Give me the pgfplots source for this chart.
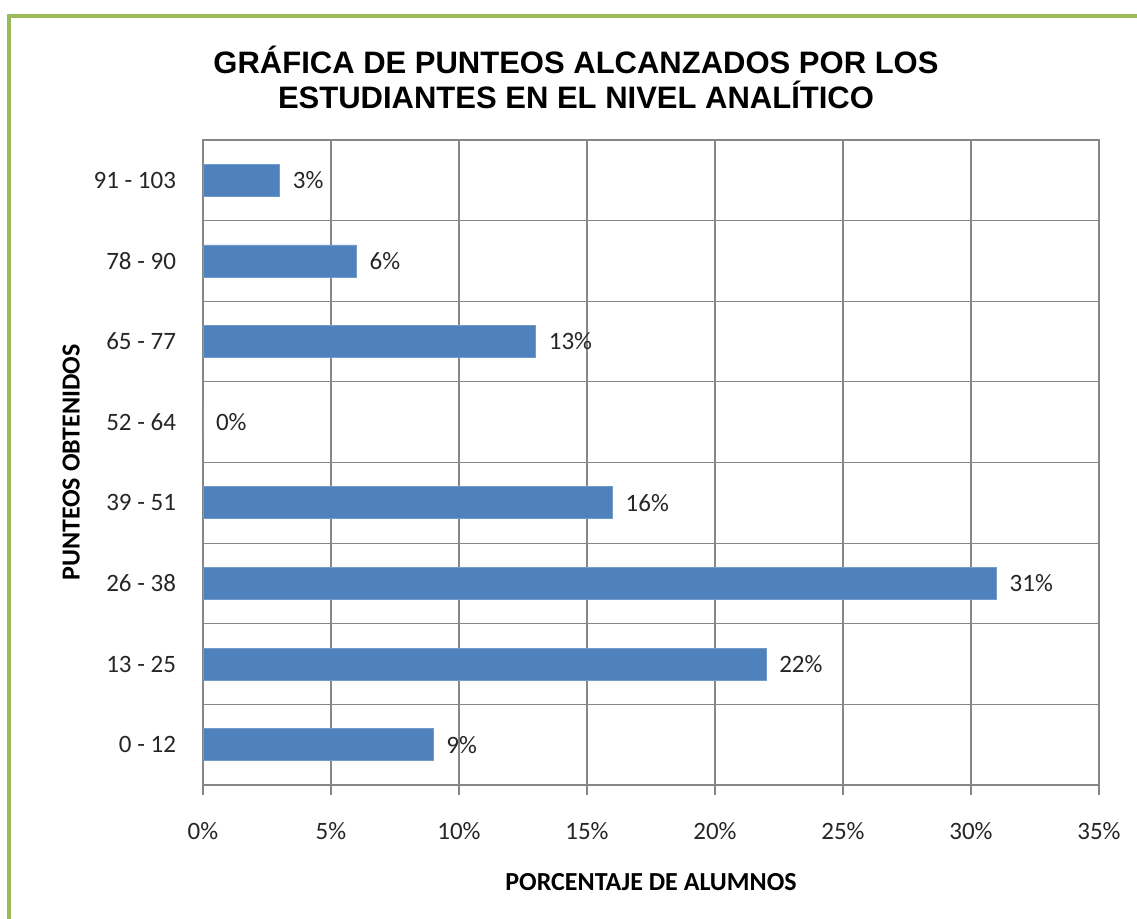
\documentclass[border=0pt]{standalone}
\usepackage{pgfplots}
\pgfplotsset{compat=1.18}
\usepackage{fontspec}
\setmainfont{Carlito}
\newfontfamily\titlefont{Liberation Sans}
\definecolor{barblue}{HTML}{4F81BD}
\definecolor{bordergreen}{HTML}{9BBB59}
\definecolor{gridgray}{HTML}{868686}
\definecolor{txt}{HTML}{262626}
\begin{document}
\begin{tikzpicture}[x=0.5pt,y=0.5pt]
\useasboundingbox (0,0) rectangle (1137,918);
\draw[bordergreen,line width=2pt,line join=miter] (9,-5) -- (9,902) -- (1145,902);
\node[font=\titlefont\bfseries\fontsize{15.5}{17.5}\selectfont,align=center,text=black] at (576,841) {GRÁFICA DE PUNTEOS ALCANZADOS POR LOS\\ESTUDIANTES EN EL NIVEL ANALÍTICO};
\begin{axis}[
  at={(101.5pt,66.5pt)}, anchor=south west,
  scale only axis, width=448pt, height=322.5pt,
  xbar, bar width=16pt,
  xmin=0, xmax=35, ymin=-0.5, ymax=7.5,
  xtick={0,5,...,35},
  xticklabel={\pgfmathprintnumber{\tick}\%},
  ytick={0,...,7},
  yticklabels={0 - 12,13 - 25,26 - 38,39 - 51,52 - 64,65 - 77,78 - 90,91 - 103},
  minor ytick={0.5,1.5,...,6.5},
  xmajorgrids, yminorgrids,
  major grid style={gridgray, line width=0.6pt},
  minor grid style={gridgray, line width=0.6pt},
  axis line style={gridgray, line width=0.6pt},
  x tick style={gridgray, line width=0.6pt},
  xtick pos=bottom, major tick length=5pt,
  tick align=outside,
  y tick style={draw=none},
  minor tick length=0pt,
  /pgf/number format/assume math mode=true,
  tick label style={font=\fontsize{12.5}{14}\selectfont, text=txt},
  xticklabel style={yshift=-10pt},
  yticklabel style={xshift=-5pt},
  xlabel={\bfseries PORCENTAJE DE ALUMNOS},
  ylabel={\bfseries PUNTEOS OBTENIDOS},
  label style={font=\fontsize{13}{15}\selectfont, text=black},
  xlabel style={yshift=-10pt},
  ylabel style={yshift=0pt},
  nodes near coords={\pgfmathprintnumber{\pgfplotspointmeta}\%},
  nodes near coords style={font=\fontsize{12.5}{14}\selectfont, text=txt, anchor=west, xshift=3pt},
  point meta=x,
]
\addplot[fill=barblue, draw=barblue!80!white] coordinates {
(9,0) (22,1) (31,2) (16,3) (0,4) (13,5) (6,6) (3,7)
};
\end{axis}
\end{tikzpicture}
\end{document}
